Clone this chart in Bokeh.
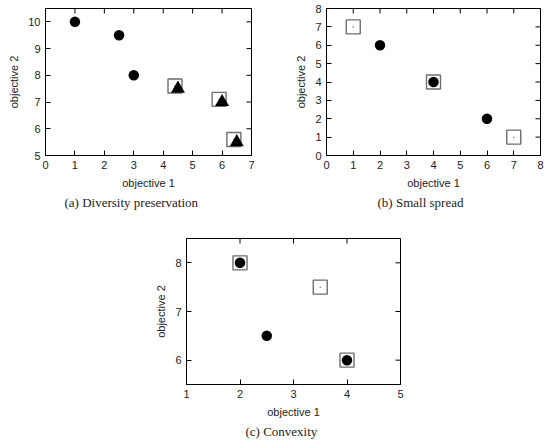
import math
from bokeh.plotting import figure
from bokeh.layouts import column, row, Spacer
from bokeh.models import Title, FixedTicker, Range1d
from bokeh.embed import file_html
from bokeh.resources import INLINE

# (a) Diversity preservation
a_circle_x = [1, 2.5, 3]
a_circle_y = [10, 9.5, 8]
a_tri_x = [4.5, 6, 6.5]
a_tri_y = [7.5, 7, 5.5]
a_sq_x = [4.4, 5.9, 6.4]
a_sq_y = [7.6, 7.1, 5.6]

# (b) Small spread
b_circle_x = [2, 4, 6]
b_circle_y = [6, 4, 2]
b_sq_x = [1, 4, 7]
b_sq_y = [7, 4, 1]

# (c) Convexity
c_circle_x = [2, 2.5, 4]
c_circle_y = [8, 6.5, 6]
c_sq_x = [2, 3.5, 4]
c_sq_y = [8, 7.5, 6]

SANS = "Liberation Sans"
SERIF = "Liberation Serif"
SQ_COLOR = "#6e6e6e"
TICK_LEN = 5


def style_axis(ax, ticks):
    ax.ticker = FixedTicker(ticks=ticks)
    ax.major_tick_in = TICK_LEN
    ax.major_tick_out = 0
    ax.minor_tick_line_color = None
    ax.axis_line_color = "black"
    ax.major_tick_line_color = "black"
    ax.major_label_text_font = SANS
    ax.major_label_text_font_size = "11px"
    ax.major_label_text_color = "#222222"
    ax.major_label_standoff = 5
    ax.axis_label_text_font = SANS
    ax.axis_label_text_font_size = "11px"
    ax.axis_label_text_font_style = "normal"
    ax.axis_label_text_color = "#222222"
    ax.axis_label_standoff = 5


def make_panel(w, h, xr, yr, xt, yt, caption, cap_offset, borders):
    l, r, t, b = borders
    p = figure(width=w, height=h, x_range=Range1d(*xr), y_range=Range1d(*yr),
               output_backend="svg", toolbar_location=None,
               min_border_left=l, min_border_right=r,
               min_border_top=t, min_border_bottom=b)
    p.grid.visible = False
    p.outline_line_color = "black"
    p.outline_line_width = 1
    p.background_fill_color = "white"
    p.border_fill_color = "white"
    style_axis(p.xaxis[0], xt)
    style_axis(p.yaxis[0], yt)
    p.xaxis.axis_label = "objective 1"
    p.yaxis.axis_label = "objective 2"
    # mirrored inward ticks on the top and right edges (half of each dash is
    # clipped away by the frame)
    p.scatter(xt, [yr[1]] * len(xt), marker="dash", angle=math.pi / 2,
              size=2 * TICK_LEN, line_color="black", line_width=1)
    p.scatter([xr[1]] * len(yt), yt, marker="dash", angle=0,
              size=2 * TICK_LEN, line_color="black", line_width=1)
    cap = Title(text=caption, align="left", offset=cap_offset, text_font=SERIF,
                text_font_size="13px", text_font_style="normal",
                text_color="#222222", standoff=2)
    p.add_layout(cap, "below")
    return p


def squares(p, xs, ys):
    p.scatter(xs, ys, marker="square", size=14, fill_color=None,
              line_color=SQ_COLOR, line_width=1.4)
    p.scatter(xs, ys, marker="circle", size=1.5, fill_color=SQ_COLOR,
              line_color=None)


def circles(p, xs, ys):
    p.scatter(xs, ys, marker="circle", size=10.5, fill_color="black",
              line_color=None)


pa = make_panel(274, 218, (0, 7), (5, 10.5), list(range(0, 8)), list(range(5, 11)),
                "(a)  Diversity preservation", 19, (45, 23, 8, 63))
circles(pa, a_circle_x, a_circle_y)
squares(pa, a_sq_x, a_sq_y)
pa.scatter(a_tri_x, a_tri_y, marker="triangle", size=14, fill_color="black",
           line_color=None)

pb = make_panel(274, 218, (0, 8), (0, 8), list(range(0, 9)), list(range(0, 9)),
                "(b)  Small spread", 51, (52, 8, 8, 63))
squares(pb, b_sq_x, b_sq_y)
circles(pb, b_circle_x, b_circle_y)

pc = make_panel(280, 225, (1, 5), (5.5, 8.5), list(range(1, 6)), [6, 7, 8],
                "(c)  Convexity", 59, (46, 20, 20, 59))
squares(pc, c_sq_x, c_sq_y)
circles(pc, c_circle_x, c_circle_y)

layout = column(row(pa, pb), row(Spacer(width=140, height=225), pc))
open("out.html", "w").write(file_html(layout, INLINE))
